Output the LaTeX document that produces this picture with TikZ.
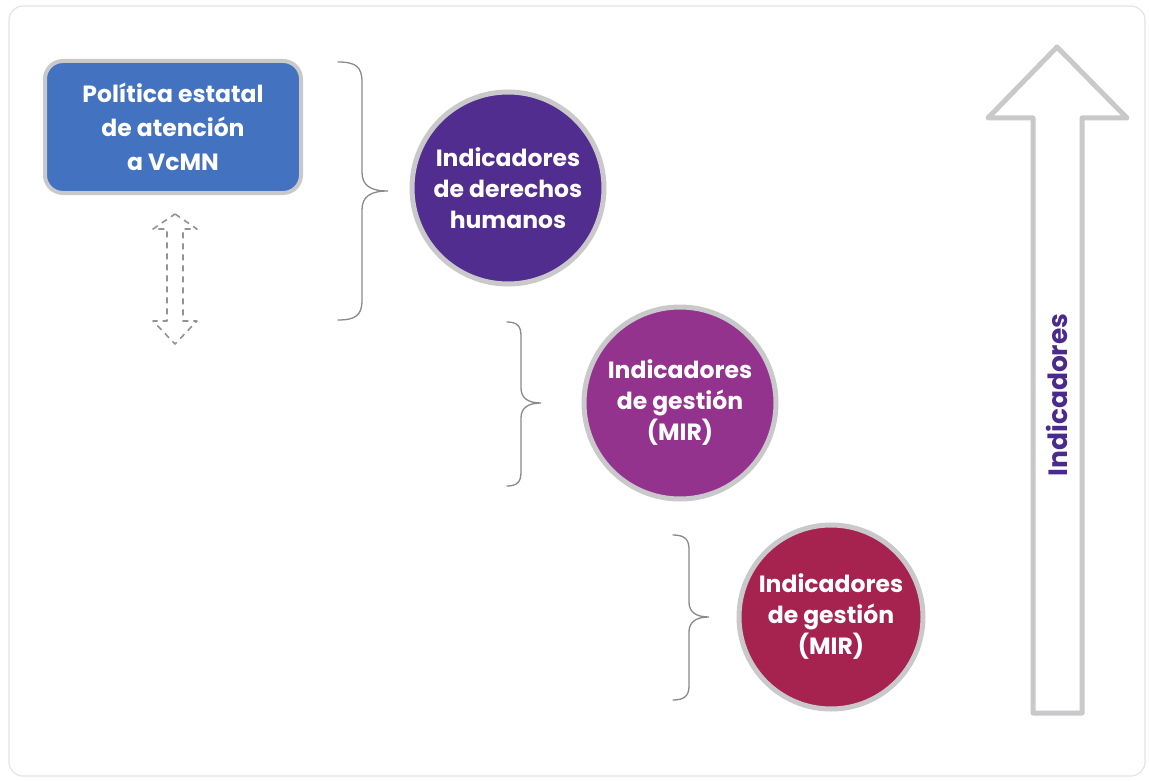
\documentclass[tikz,border=0pt]{standalone}
\usepackage{fontspec}
\setmainfont{Poppins}
\definecolor{boxblue}{HTML}{4372C0}
\definecolor{cone}{HTML}{512D8F}
\definecolor{ctwo}{HTML}{93338E}
\definecolor{cthree}{HTML}{A6234F}
\definecolor{rimgray}{HTML}{C9C9CB}
\definecolor{bracegray}{HTML}{8A8A8A}
\definecolor{framegray}{HTML}{E4E4E4}
\definecolor{labpurple}{HTML}{4B2A8E}
\tikzset{
  framest/.style={draw=framegray, line width=1.2pt, rounded corners=14pt},
  policybox/.style={rectangle, rounded corners=18pt, fill=boxblue, draw=rimgray, line width=4pt,
     minimum width=256pt, minimum height=132pt, align=center, text=white,
     font=\fontsize{23.5}{34}\selectfont\bfseries},
  indcircle/.style={circle, draw=rimgray, line width=5pt, minimum size=192pt, inner sep=0pt,
     align=center, text=white, font=\fontsize{23.5}{31}\selectfont\bfseries},
  bracest/.style={draw=bracegray, line width=1.3pt, line cap=round},
  dasharrow/.style={draw=gray!85, dashed, dash pattern=on 6pt off 5pt, line width=1.6pt, line join=round},
  bigarrow/.style={draw=rimgray, fill=white, line width=5pt, line join=round},
  sidelabel/.style={text=labpurple, font=\fontsize{26.5}{30}\selectfont\bfseries}
}
\begin{document}
\begin{tikzpicture}[x=1pt,y=-1pt]
\useasboundingbox (0,0) rectangle (1149,781);
\fill[white] (0,0) rectangle (1149,781);
\draw[framest] (9,6) rectangle (1145,776);

% policy box
\node[policybox] (pol) at (173,127) {Política estatal\\de atención\\a VcMN};

% dashed double arrow
\draw[dasharrow] (175,214) -- (197,229) -- (183,229) -- (183,321) -- (197,321) -- (175,344)
   -- (153,321) -- (167,321) -- (167,229) -- (153,229) -- cycle;

% braces
\coordinate (b1t) at (338,62);
\coordinate (b1tip) at (388,191);
\coordinate (b1b) at (338,320);
\draw[bracest] (b1t) .. controls (356,62) and (362,67) .. (362,82) -- (362,172)
  .. controls (362,186) and (371,191) .. (b1tip)
  .. controls (371,191) and (362,196) .. (362,210) -- (362,300)
  .. controls (362,315) and (356,320) .. (b1b);

\coordinate (b2t) at (507,322);
\coordinate (b2tip) at (541,403);
\coordinate (b2b) at (507,486);
\draw[bracest] (b2t) .. controls (517,322) and (521,326) .. (521,336) -- (521,388)
  .. controls (521,398) and (528,403) .. (b2tip)
  .. controls (528,403) and (521,408) .. (521,418) -- (521,472)
  .. controls (521,482) and (517,486) .. (b2b);

\coordinate (b3t) at (673,535);
\coordinate (b3tip) at (709,617);
\coordinate (b3b) at (673,700);
\draw[bracest] (b3t) .. controls (684,535) and (689,539) .. (689,549) -- (689,602)
  .. controls (689,612) and (696,617) .. (b3tip)
  .. controls (696,617) and (689,622) .. (689,632) -- (689,686)
  .. controls (689,696) and (684,700) .. (b3b);

% circles
\node[indcircle, fill=cone] (c1) at (508,188) {Indicadores\\de derechos\\humanos};
\node[indcircle, fill=ctwo] (c2) at (680,403) {Indicadores\\de gestión\\(MIR)};
\node[indcircle, fill=cthree, minimum size=184pt] (c3) at (831,617) {Indicadores\\de gestión\\(MIR)};

% big arrow
\draw[bigarrow] (1057,47) -- (1127,118) -- (1082,118) -- (1082,713) -- (1033,713)
  -- (1033,118) -- (988,118) -- cycle;
\node[sidelabel, rotate=90] (lab) at (1057,395) {Indicadores};
\end{tikzpicture}
\end{document}
